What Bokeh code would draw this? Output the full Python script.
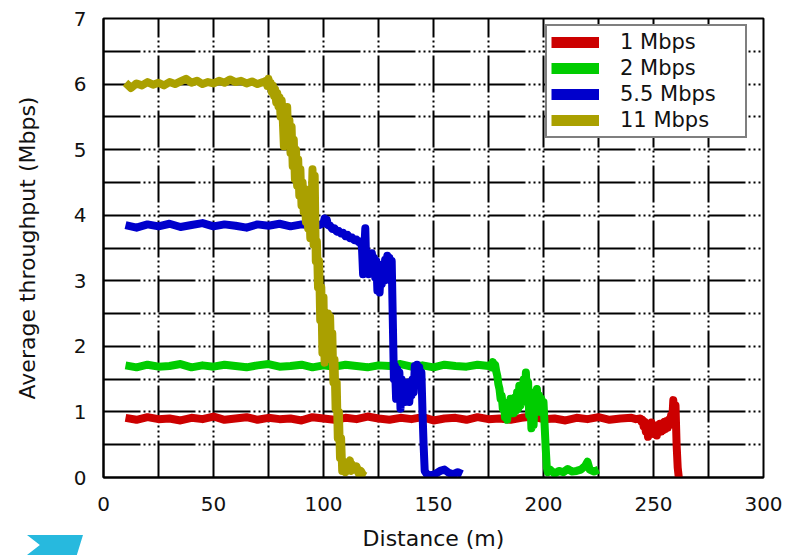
from bokeh.plotting import figure
from bokeh.models import FixedTicker, Legend, LegendItem, InlineStyleSheet
from bokeh.embed import file_html
from bokeh.resources import INLINE

# ---------------- data ----------------
x_ticks = [0, 50, 100, 150, 200, 250, 300]
x_minor = [25, 75, 125, 175, 225, 275]
y_ticks = [0, 1, 2, 3, 4, 5, 6, 7]
y_minor = [0.5, 1.5, 2.5, 3.5, 4.5, 5.5, 6.5]

series_labels = ["1 Mbps", "2 Mbps", "5.5 Mbps", "11 Mbps"]

# 1 Mbps
r1_x_flat = [10, 15, 20, 25, 30, 35, 40, 45, 50, 55, 60, 65, 70, 75, 80, 85, 90, 95,
             100, 105, 110, 115, 120, 125, 130, 135, 140, 145, 150, 155, 160, 165, 170,
             175, 180, 185, 190, 195, 200, 205, 210, 215, 220, 225, 230, 235, 240]
r1_y_flat = [0.91, 0.88, 0.92, 0.89, 0.90, 0.87, 0.91, 0.89, 0.93, 0.88, 0.90, 0.92, 0.88,
             0.91, 0.89, 0.90, 0.87, 0.92, 0.90, 0.88, 0.91, 0.89, 0.93, 0.90, 0.88, 0.91,
             0.89, 0.92, 0.87, 0.90, 0.91, 0.88, 0.92, 0.89, 0.90, 0.88, 0.91, 0.93, 0.89,
             0.90, 0.87, 0.91, 0.89, 0.92, 0.88, 0.90, 0.91]
r1_x_end = [242, 244, 244.5, 245, 245.5, 246, 246.5, 247, 247.5, 248, 248.5, 249, 249.5,
            250, 250.5, 251, 251.5, 252, 252.5, 253, 253.5, 254, 254.5, 255, 255.5, 256,
            256.5, 257, 257.5, 258, 258.5, 259, 259.5, 260, 260.5, 261, 261.5]
r1_y_end = [0.89, 0.90, 0.85, 0.88, 0.78, 0.85, 0.70, 0.82, 0.62, 0.78, 0.70, 0.84, 0.72,
            0.80, 0.66, 0.78, 0.64, 0.80, 0.70, 0.82, 0.70, 0.80, 0.72, 0.85, 0.74, 0.86,
            0.76, 0.88, 0.80, 0.95, 0.85, 1.18, 0.90, 1.10, 0.50, 0.15, 0.0]

# 2 Mbps
r2_x_flat = [10, 15, 20, 25, 30, 35, 40, 45, 50, 55, 60, 65, 70, 75, 80, 85, 90, 95,
             100, 105, 110, 115, 120, 125, 130, 135, 140, 145, 150, 155, 160, 165, 170, 175]
r2_y_flat = [1.71, 1.68, 1.72, 1.69, 1.70, 1.73, 1.68, 1.71, 1.69, 1.72, 1.70, 1.68, 1.71,
             1.73, 1.69, 1.70, 1.72, 1.68, 1.71, 1.69, 1.72, 1.70, 1.68, 1.71, 1.70, 1.73,
             1.69, 1.71, 1.68, 1.72, 1.70, 1.69, 1.72, 1.70]
r2_x_end = [176, 176.5, 177, 177.5, 178, 178.5, 179, 179.5, 180, 180.5, 181, 181.5, 182,
            182.5, 183, 183.5, 184, 184.5, 185, 185.5, 186, 186.5, 187, 187.5, 188, 188.5,
            189, 189.5, 190, 190.5, 191, 191.5, 192, 192.5, 193, 193.5, 194, 194.5, 195,
            195.5, 196, 196.5, 197, 197.5, 198, 198.5, 199, 199.5, 200, 200.5, 201, 201.5,
            202, 203, 205, 207, 209, 211, 213, 215, 217, 219, 220, 221, 223, 225]
r2_y_end = [1.72, 1.68, 1.76, 1.70, 1.72, 1.62, 1.55, 1.42, 1.35, 1.20, 1.25, 1.05, 1.15,
            0.92, 1.05, 0.88, 1.10, 0.98, 1.20, 1.00, 1.15, 0.98, 1.22, 1.02, 1.30, 1.05,
            1.40, 1.10, 1.35, 1.15, 1.50, 1.20, 1.60, 1.25, 1.45, 0.95, 1.25, 0.75, 1.05,
            0.80, 1.30, 1.00, 1.35, 1.05, 1.25, 1.00, 1.20, 1.00, 1.15, 0.80, 0.45, 0.15,
            0.08, 0.12, 0.06, 0.10, 0.08, 0.13, 0.09, 0.10, 0.12, 0.18, 0.24, 0.12, 0.09, 0.12]

# 5.5 Mbps
r55_x_flat = [10, 15, 20, 25, 30, 35, 40, 45, 50, 55, 60, 65, 70, 75, 80, 85, 90, 95]
r55_y_flat = [3.85, 3.81, 3.86, 3.83, 3.87, 3.82, 3.85, 3.88, 3.83, 3.86, 3.84, 3.81,
              3.86, 3.84, 3.87, 3.83, 3.86, 3.84]
r55_x_end = [98, 100, 100.5, 101, 101.5, 102, 103, 104, 105, 106, 107, 108, 109, 110, 111,
             112, 113, 114, 115, 116, 117, 117.5, 118, 118.5, 119, 119.5, 120, 120.5, 121,
             121.5, 122, 122.5, 123, 123.5, 124, 124.5, 125, 125.5, 126, 126.5, 127, 127.5,
             128, 128.5, 129, 129.5, 130, 130.5, 131, 131.5, 132, 132.5, 133, 133.5, 134,
             134.5, 135, 135.5, 136, 136.5, 137, 137.5, 138, 138.5, 139, 139.5, 140, 140.5,
             141, 141.5, 142, 142.5, 143, 143.5, 144, 144.5, 145, 145.5, 146, 147, 149, 151,
             153, 155, 157, 159, 161, 163]
r55_y_end = [3.85, 3.88, 3.95, 3.90, 3.93, 3.85, 3.84, 3.79, 3.80, 3.75, 3.76, 3.72, 3.73,
             3.68, 3.70, 3.65, 3.66, 3.62, 3.63, 3.59, 3.60, 3.50, 3.10, 3.45, 3.80, 3.15,
             3.40, 3.10, 3.38, 3.15, 3.42, 3.20, 3.35, 3.05, 3.30, 2.85, 3.10, 2.82, 3.15,
             2.95, 3.25, 3.00, 3.32, 3.05, 3.38, 3.10, 3.35, 3.00, 3.30, 2.40, 1.50, 1.70,
             1.20, 1.65, 1.25, 1.60, 1.05, 1.50, 1.20, 1.45, 1.15, 1.40, 1.20, 1.45, 1.15,
             1.40, 1.25, 1.50, 1.30, 1.70, 1.45, 1.72, 1.45, 1.68, 1.40, 1.60, 1.00, 0.50,
             0.10, 0.05, 0.03, 0.06, 0.10, 0.12, 0.07, 0.05, 0.08, 0.05]

# 11 Mbps
r11_x_flat = [10, 12.5, 15, 17.5, 20, 22.5, 25, 27.5, 30, 32.5, 35, 37.5, 40, 42.5, 45,
              47.5, 50, 52.5, 55, 57.5, 60, 62.5, 65, 67.5, 70, 72.5]
r11_y_flat = [6.02, 5.94, 6.01, 5.98, 6.03, 5.99, 6.02, 5.98, 6.03, 6.00, 6.04, 6.08, 6.02,
              6.05, 6.00, 6.03, 6.01, 6.05, 6.02, 6.07, 6.03, 6.05, 6.01, 6.04, 6.00, 6.03]
r11_x_end = [74, 74.5, 75, 75.5, 76, 76.5, 77, 77.5, 78, 78.5, 79, 79.5, 80, 80.5, 81,
             81.5, 82, 82.5, 83, 83.5, 84, 84.5, 85, 85.5, 86, 86.5, 87, 87.5, 88, 88.5,
             89, 89.5, 90, 90.5, 91, 91.5, 92, 92.5, 93, 93.5, 94, 94.5, 95, 95.5, 96,
             96.5, 97, 97.5, 98, 98.5, 99, 99.5, 100, 100.5, 101, 101.5, 102, 102.5, 103,
             103.5, 104, 104.5, 105, 105.5, 106, 106.5, 107, 107.5, 108, 108.5, 109, 110,
             111, 112, 112.5, 113, 114, 115, 116, 117, 118, 119]
r11_y_end = [6.05, 5.97, 6.08, 5.98, 6.02, 5.88, 5.98, 5.82, 5.92, 5.72, 5.86, 5.66, 5.80,
             5.50, 5.75, 5.45, 5.05, 5.60, 5.25, 5.65, 5.10, 5.45, 4.95, 5.35, 4.75, 5.15,
             4.55, 5.00, 4.45, 4.85, 4.30, 4.70, 4.15, 4.50, 4.05, 4.40, 3.90, 4.30, 3.80,
             4.15, 3.65, 4.00, 4.70, 3.55, 4.60, 3.30, 3.60, 2.90, 3.30, 2.40, 2.90, 1.90,
             2.75, 1.75, 2.30, 1.80, 2.50, 1.90, 2.45, 1.80, 2.20, 1.45, 1.80, 1.05, 1.45,
             0.60, 1.00, 0.30, 0.60, 0.10, 0.25, 0.08, 0.20, 0.26, 0.10, 0.20, 0.12, 0.17,
             0.06, 0.10, 0.04, 0.02]

series_x = [r1_x_flat + r1_x_end, r2_x_flat + r2_x_end,
            r55_x_flat + r55_x_end, r11_x_flat + r11_x_end]
series_y = [r1_y_flat + r1_y_end, r2_y_flat + r2_y_end,
            r55_y_flat + r55_y_end, r11_y_flat + r11_y_end]

# ---------------- styling ----------------
colors = ["#cc0000", "#00cc00", "#0000cc", "#aaa000"]
FONT = "DejaVu Sans"

# decorative cyan ribbon in the page's bottom-left corner (pure page decoration)
ribbon_css = InlineStyleSheet(css="""
:host { position: relative; }
:host::after {
  content: ""; position: absolute; left: 27px; top: 535px; width: 56px; height: 20px;
  background: #27b9de;
  clip-path: polygon(0 0, 100% 0, 89% 100%, 0 100%, 23% 50%);
  pointer-events: none;
}
""")

p = figure(width=790, height=555, x_range=(0, 300), y_range=(0, 7),
           output_backend="svg", toolbar_location=None,
           min_border_left=103, min_border_right=27, min_border_top=18,
           min_border_bottom=78, background_fill_color="white",
           border_fill_color="white", stylesheets=[ribbon_css])

xt = FixedTicker(ticks=x_ticks, minor_ticks=x_minor)
yt = FixedTicker(ticks=y_ticks, minor_ticks=y_minor)
p.xaxis.ticker = xt
p.yaxis.ticker = yt
p.xgrid.ticker = xt
p.ygrid.ticker = yt

for g in (p.xgrid, p.ygrid):
    g.grid_line_color = "black"
    g.grid_line_width = 2
    g.grid_line_dash = "37 3 2 3 2 3 2 3"
    g.minor_grid_line_color = "black"
    g.minor_grid_line_width = 2
    g.minor_grid_line_dash = "37 3 2 3 2 3 2 3"

p.outline_line_color = "black"
p.outline_line_width = 2

p.axis.axis_line_color = "black"
p.axis.axis_line_width = 2
p.axis.major_tick_in = 0
p.axis.major_tick_out = 0
p.axis.minor_tick_line_color = None
p.axis.major_label_text_font = FONT
p.axis.major_label_text_font_size = "20px"
p.axis.major_label_text_color = "#111111"
p.axis.axis_label_text_font = FONT
p.axis.axis_label_text_font_size = "22px"
p.axis.axis_label_text_font_style = "normal"
p.axis.axis_label_text_color = "#111111"
p.xaxis.major_label_standoff = 15
p.yaxis.major_label_standoff = 13
p.xaxis.axis_label = "Distance (m)"
p.yaxis.axis_label = "Average throughput (Mbps)"
p.xaxis.axis_label_standoff = 12
p.yaxis.axis_label_standoff = 31

for xs, ys, c in zip(series_x, series_y, colors):
    p.line(xs, ys, line_color=c, line_width=8, line_join="round")

# legend-only renderers (a single NaN point, nothing drawn) for thicker swatches
nan = float("nan")
swatches = [p.line([nan], [nan], line_color=c, line_width=11) for c in colors]

legend = Legend(items=[LegendItem(label=lab, renderers=[r])
                       for lab, r in zip(series_labels, swatches)],
                location=(442, 339))
legend.border_line_color = "black"
legend.border_line_width = 2
legend.background_fill_color = "white"
legend.background_fill_alpha = 1.0
legend.label_text_font = FONT
legend.label_text_font_size = "21px"
legend.label_text_line_height = 1.0
legend.label_text_color = "#111111"
legend.glyph_width = 48
legend.glyph_height = 20
legend.label_height = 20
legend.label_width = 121
legend.label_standoff = 21
legend.spacing = 2
legend.padding = 4
legend.margin = 0
p.add_layout(legend)

open("out.html", "w").write(file_html(p, INLINE))
